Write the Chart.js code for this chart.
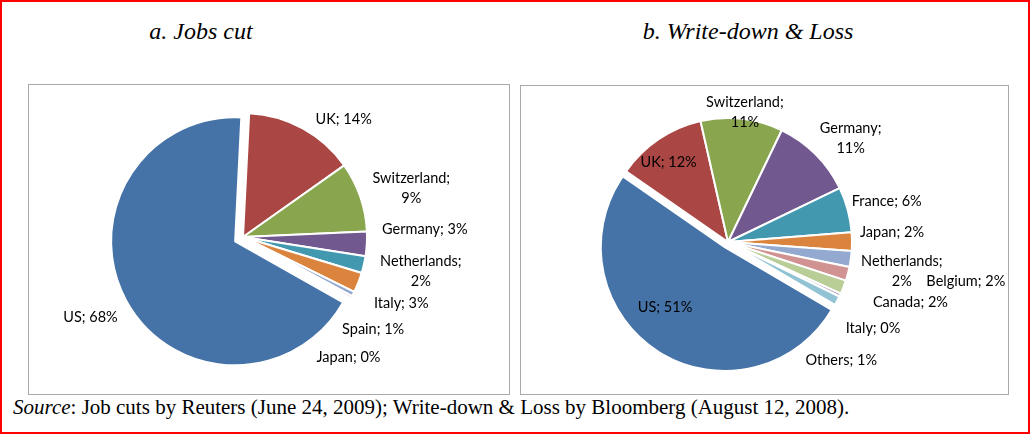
<!DOCTYPE html>
<html>
<head>
<meta charset="utf-8">
<script src="https://cdn.jsdelivr.net/npm/chart.js@4.4.0/dist/chart.umd.min.js"></script>
<style>
    body { margin: 0; background: #fff; }
    #frame {
        position: absolute; left: 0; top: 0;
        width: 1030px; height: 434px;
        border: 2px solid #f00;
        box-sizing: border-box;
    }
    .title {
        position: absolute;
        font: italic 24px 'Liberation Serif', 'Times New Roman', serif;
        line-height: 24px;
        text-align: center;
        color: #000;
    }
    .box {
        position: absolute;
        border: 1px solid #a9a9a9;
        box-sizing: border-box;
        background: #fff;
    }
    .box canvas { display: block; }
    #source {
        position: absolute; left: 13px; top: 397px;
        font: 21px 'Liberation Serif', 'Times New Roman', serif;
        line-height: 21px;
        white-space: nowrap;
        color: #000;
    }
</style>
</head>
<body>
<div id="frame"></div>
<div class="title" style="left:101px; top:19px; width:200px;">a. Jobs cut</div>
<div class="title" style="left:598px; top:19px; width:300px;">b. Write-down &amp; Loss</div>

<div class="box" style="left:28px; top:84px; width:482px; height:311px;">
    <canvas id="jobs" width="480" height="309"></canvas>
</div>
<div class="box" style="left:520px; top:85px; width:489px; height:310px;">
    <canvas id="loss" width="487" height="308"></canvas>
</div>

<div id="source"><i>Source</i>: Job cuts by Reuters (June 24, 2009); Write-down &amp; Loss by Bloomberg (August 12, 2008).</div>

<script>
// a. Jobs cut (share of total, %)
const jobsCountries = ['US', 'UK', 'Switzerland', 'Germany', 'Netherlands', 'Italy', 'Spain', 'Japan'];
const jobsShare = [67.6, 14.4, 9.1, 3.2, 2.2, 2.6, 0.6, 0.3];

// b. Write-down & Loss (share of total, %)
const lossCountries = ['US', 'UK', 'Switzerland', 'Germany', 'France', 'Japan', 'Netherlands', 'Belgium', 'Canada', 'Italy', 'Others'];
const lossShare = [51.2, 11.8, 10.7, 10.7, 5.9, 2.4, 2.1, 1.8, 1.8, 0.4, 1.2];

const palette = ['#4572A7', '#AA4643', '#89A54E', '#71588F', '#4198AF', '#DB843D',
    '#93A9CF', '#D19392', '#B9CD96', '#A99BBD', '#92C3D4'];

// pull one slice out of the pie, keeping its radius
const explode = {
    id: 'explode',
    afterDatasetUpdate(chart, args, opts) {
        const arc = chart.getDatasetMeta(0).data[opts.index];
        if (!arc) return;
        const mid = (arc.startAngle + arc.endAngle) / 2;
        arc.x += Math.cos(mid) * opts.distance;
        arc.y += Math.sin(mid) * opts.distance;
    }
};

// "Name; 12%" labels, placed relative to the outer edge of each slice
const sliceLabels = {
    id: 'sliceLabels',
    afterDatasetsDraw(chart, args, opts) {
        const ctx = chart.ctx;
        const arcs = chart.getDatasetMeta(0).data;
        const names = chart.data.labels;
        const values = chart.data.datasets[0].data;

        ctx.save();
        ctx.font = opts.font;
        ctx.fillStyle = opts.color;
        ctx.textAlign = 'center';
        ctx.textBaseline = 'middle';

        arcs.forEach((arc, i) => {
            const mid = (arc.startAngle + arc.endAngle) / 2;
            const [dx, dy] = opts.shift[i] || [0, 0];
            const cx = arc.x + Math.cos(mid) * arc.outerRadius + dx;
            const cy = arc.y + Math.sin(mid) * arc.outerRadius + dy;
            const pct = Math.round(values[i]) + '%';
            const lines = opts.wrap.includes(i) ? [names[i] + ';', pct] : [names[i] + '; ' + pct];
            lines.forEach((t, k) => {
                ctx.fillText(t, cx, cy + (k - (lines.length - 1) / 2) * opts.lineHeight);
            });
        });
        ctx.restore();
    }
};

function pieChart(id, param) {
    const { labels, data, rotation, padding, explodeBy, shift, wrap } = param;

    return new Chart(document.getElementById(id), {
        type: 'pie',
        data: {
            labels,
            datasets: [{
                data,
                backgroundColor: palette.slice(0, data.length),
                borderColor: '#ffffff',
                borderWidth: 2
            }]
        },
        options: {
            responsive: false,
            animation: false,
            rotation,
            radius: 124,
            layout: { padding },
            plugins: {
                legend: { display: false },
                tooltip: { enabled: false },
                explode: { index: 0, distance: explodeBy },
                sliceLabels: {
                    font: '14.5px Lato, "Open Sans", sans-serif',
                    color: '#000',
                    lineHeight: 20,
                    shift,
                    wrap
                }
            }
        },
        plugins: [explode, sliceLabels]
    });
}

pieChart('jobs', {
    labels: jobsCountries,
    data: jobsShare,
    rotation: 119.5,
    padding: { left: 0, right: 52, top: 0, bottom: 5 },
    explodeBy: 9,
    shift: [[-36, 16], [41, -9], [51, -8], [58, -15], [57, 7], [43, 21], [20, 35], [-3, 60]],
    wrap: [2, 4]
});

pieChart('loss', {
    labels: lossCountries,
    data: lossShare,
    rotation: 120.4,
    padding: { left: 0, right: 73, top: 4, bottom: 0 },
    explodeBy: 6,
    shift: [[7, -44], [10, 23], [3, -6], [35, -16], [39, -8], [40, -9], [51, 12], [118, 7], [67, 15], [33, 33], [4, 60]],
    wrap: [2, 3, 6]
});
</script>
</body>
</html>
